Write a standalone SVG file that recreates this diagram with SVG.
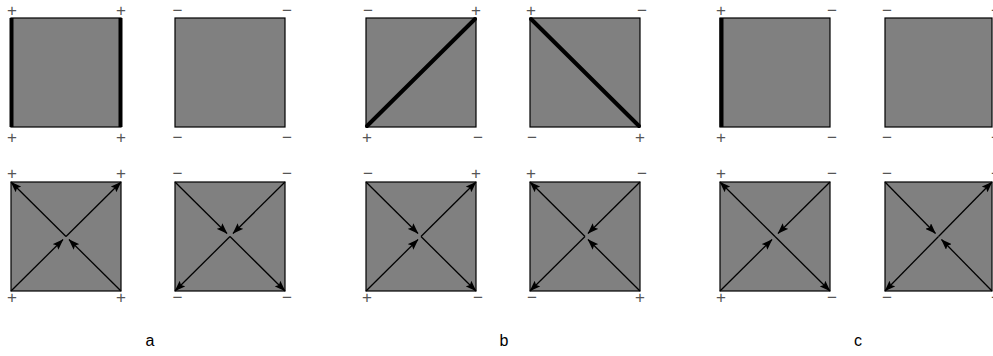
<svg xmlns="http://www.w3.org/2000/svg" width="993" height="356" viewBox="0 0 993 356">
<style>
.sq{fill:#808080;stroke:#000;stroke-width:1.2}
.thick{stroke:#000;stroke-width:4;stroke-linecap:round}
.lb{font-family:"Liberation Sans",Arial,sans-serif;font-size:17px;fill:#555;text-anchor:middle}
.cap{font-family:"Liberation Sans",Arial,sans-serif;font-size:16px;fill:#000;text-anchor:middle}
.ar{stroke:#000;stroke-width:1.3;fill:none;marker-end:url(#ah)}
</style>
<defs>
<marker id="ah" markerUnits="userSpaceOnUse" markerWidth="11" markerHeight="8" refX="10.5" refY="4" orient="auto">
<path d="M0,0 L11,4 L0,8 L2,4 z" fill="#000"/>
</marker>
</defs>
<rect width="993" height="356" fill="#fff"/>

<g id="a1top">
<rect class="sq" x="11" y="18" width="110" height="109"/>
<line class="thick" x1="11.5" y1="18" x2="11.5" y2="127" style="stroke-linecap:butt"/>
<line class="thick" x1="120.5" y1="18" x2="120.5" y2="127" style="stroke-linecap:butt"/>
<text class="lb" x="12" y="16">+</text><text class="lb" x="121" y="16">+</text>
<text class="lb" x="12" y="143">+</text><text class="lb" x="121" y="143">+</text>
</g>
<g id="a2top">
<rect class="sq" x="175" y="18" width="110" height="109"/>
<text class="lb" x="177.5" y="16">−</text><text class="lb" x="287" y="16">−</text>
<text class="lb" x="177.5" y="143">−</text><text class="lb" x="287" y="143">−</text>
</g>
<g id="b1top">
<rect class="sq" x="366" y="18" width="110" height="109"/>
<line class="thick" x1="367" y1="126" x2="475" y2="19"/>
<text class="lb" x="368" y="16">−</text><text class="lb" x="476" y="16">+</text>
<text class="lb" x="367" y="143">+</text><text class="lb" x="478" y="143">−</text>
</g>
<g id="b2top">
<rect class="sq" x="530" y="18" width="110" height="109"/>
<line class="thick" x1="531" y1="19" x2="639" y2="126"/>
<text class="lb" x="531" y="16">+</text><text class="lb" x="642" y="16">−</text>
<text class="lb" x="532" y="143">−</text><text class="lb" x="640" y="143">+</text>
</g>
<g id="c1top">
<rect class="sq" x="720" y="18" width="110" height="109"/>
<line class="thick" x1="721.5" y1="18" x2="721.5" y2="127" style="stroke-linecap:butt"/>
<text class="lb" x="721" y="16">+</text><text class="lb" x="832" y="16">−</text>
<text class="lb" x="721" y="143">+</text><text class="lb" x="832" y="143">−</text>
</g>
<g id="c2top">
<rect class="sq" x="885" y="18" width="107" height="109"/>
<text class="lb" x="887" y="16">−</text><text class="lb" x="996" y="16">−</text>
<text class="lb" x="887" y="143">−</text><text class="lb" x="996" y="143">−</text>
</g>

<g id="a1bot">
<rect class="sq" x="11" y="182" width="110" height="109"/>
<text class="lb" x="12" y="179">+</text><text class="lb" x="121" y="179">+</text>
<text class="lb" x="12" y="303">+</text><text class="lb" x="121" y="303">+</text>
</g>
<g id="a2bot">
<rect class="sq" x="175" y="182" width="110" height="109"/>
<text class="lb" x="177.5" y="179">−</text><text class="lb" x="287" y="179">−</text>
<text class="lb" x="177.5" y="303">−</text><text class="lb" x="287" y="303">−</text>
</g>
<g id="b1bot">
<rect class="sq" x="366" y="182" width="110" height="109"/>
<text class="lb" x="368" y="179">−</text><text class="lb" x="476" y="179">+</text>
<text class="lb" x="367" y="303">+</text><text class="lb" x="478" y="303">−</text>
</g>
<g id="b2bot">
<rect class="sq" x="530" y="182" width="110" height="109"/>
<text class="lb" x="531" y="179">+</text><text class="lb" x="642" y="179">−</text>
<text class="lb" x="532" y="303">−</text><text class="lb" x="640" y="303">+</text>
</g>
<g id="c1bot">
<rect class="sq" x="720" y="182" width="110" height="109"/>
<text class="lb" x="721" y="179">+</text><text class="lb" x="832" y="179">−</text>
<text class="lb" x="721" y="303">+</text><text class="lb" x="832" y="303">−</text>
</g>
<g id="c2bot">
<rect class="sq" x="885" y="182" width="107" height="109"/>
<text class="lb" x="887" y="179">−</text><text class="lb" x="996" y="179">−</text>
<text class="lb" x="887" y="303">−</text><text class="lb" x="996" y="303">−</text>
</g>

<g id="connectors">
<line class="ar" x1="11" y1="291" x2="63" y2="239.5"/>
<line class="ar" x1="121" y1="291" x2="69" y2="239.5"/>
<line class="ar" x1="66" y1="236.5" x2="11" y2="182"/>
<line class="ar" x1="66" y1="236.5" x2="121" y2="182"/>

<line class="ar" x1="175" y1="182" x2="227" y2="233.5"/>
<line class="ar" x1="285" y1="182" x2="233" y2="233.5"/>
<line class="ar" x1="230" y1="236.5" x2="175" y2="291"/>
<line class="ar" x1="230" y1="236.5" x2="285" y2="291"/>

<line class="ar" x1="366" y1="182" x2="418" y2="233.5"/>
<line class="ar" x1="366" y1="291" x2="418" y2="239.5"/>
<line class="ar" x1="421" y1="236.5" x2="476" y2="182"/>
<line class="ar" x1="421" y1="236.5" x2="476" y2="291"/>

<line class="ar" x1="640" y1="182" x2="588" y2="233.5"/>
<line class="ar" x1="640" y1="291" x2="588" y2="239.5"/>
<line class="ar" x1="585" y1="236.5" x2="530" y2="182"/>
<line class="ar" x1="585" y1="236.5" x2="530" y2="291"/>

<line class="ar" x1="830" y1="182" x2="778" y2="233.5"/>
<line class="ar" x1="720" y1="291" x2="772" y2="239.5"/>
<line class="ar" x1="775" y1="236.5" x2="720" y2="182"/>
<line class="ar" x1="775" y1="236.5" x2="830" y2="291"/>

<line class="ar" x1="885" y1="182" x2="935.5" y2="233.5"/>
<line class="ar" x1="992" y1="291" x2="941.5" y2="239.5"/>
<line class="ar" x1="938.5" y1="236.5" x2="992" y2="182"/>
<line class="ar" x1="938.5" y1="236.5" x2="885" y2="291"/>
</g>

<text class="cap" x="150" y="346">a</text>
<text class="cap" x="504" y="346">b</text>
<text class="cap" x="858" y="346">c</text>
</svg>
